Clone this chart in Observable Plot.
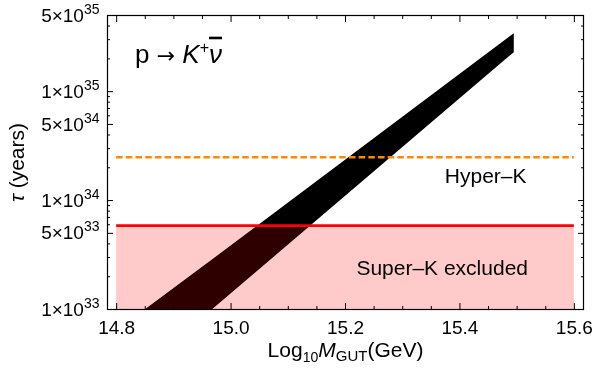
<!DOCTYPE html>
<html>
<head>
<meta charset="utf-8">
<script src="https://cdn.jsdelivr.net/npm/d3@7"></script>
<script src="https://cdn.jsdelivr.net/npm/@observablehq/plot@0.6"></script>
<style>
  html, body { margin: 0; padding: 0; background: #fff; }
  #chart { width: 592px; height: 371px; }
</style>
</head>
<body>
<div id="chart"></div>
<script>
// ---- data ----
const xTickValues = [14.8, 15.0, 15.2, 15.4, 15.6];
const xTickLabels = ["14.8", "15.0", "15.2", "15.4", "15.6"];
const yTickValues = [1e33, 5e33, 1e34, 5e34, 1e35, 5e35];
const yTickMant = ["1", "5", "1", "5", "1", "5"];
const yTickExp = ["33", "33", "34", "34", "35", "35"];
const yMinorMult = [2, 3, 4, 6, 7, 8, 9];
const yDecades = [1e33, 1e34, 1e35];

// band (predicted lifetime range) : lower / upper edges
const bandX = [14.851, 14.968, 15.495];
const bandLow = [1e33, 1e33, 2.28e35];
const bandHigh = [1e33, 2.86e33, 3.4e35];

// experimental limits
const superKLimit = 5.9e33;
const hyperKReach = 2.5e34;
const limitRange = [14.8, 15.6];
const yMin = 1e33, yMax = 5e35;

// labels
const processLabel = {x: 14.832, y: 2.2e35};
const hyperKLabel = {x: 15.445, y: 1.68e34, text: "Hyper–K"};
const superKLabel = {x: 15.369, y: 2.4e33, text: "Super–K excluded"};

// ---- derived tables ----
const band = bandX.map((x, i) => ({x, lo: bandLow[i], hi: bandHigh[i]}));
const xMinor = d3.range(0, 17).map(i => +(14.8 + i * 0.05).toFixed(2)).filter(v => !xTickValues.includes(v));
const yMinor = yDecades.flatMap(d => yMinorMult.map(m => m * d)).filter(v => v <= yMax && !yTickValues.includes(v));
const yLabels = yTickValues.map((v, i) => ({y: v, text: yTickMant[i] + "×10^" + yTickExp[i]}));
const xLabels = xTickValues.map((v, i) => ({x: v, text: xTickLabels[i]}));

const font = "Liberation Sans, Arial, Helvetica, sans-serif";
const pink = "#ffcaca";

const plot = Plot.plot({
  width: 592,
  height: 371,
  marginLeft: 107,
  marginRight: 9,
  marginTop: 15,
  marginBottom: 62,
  style: {fontFamily: font, fontSize: "19px", background: "#fff", color: "#000"},
  x: {domain: [14.784, 15.616], axis: null},
  y: {type: "log", domain: [yMin, yMax], axis: null},
  marks: [
    // Super-K excluded region
    Plot.rect([{x1: limitRange[0], x2: limitRange[1], y1: yMin, y2: superKLimit}], {x1: "x1", x2: "x2", y1: "y1", y2: "y2", fill: pink}),
    // prediction band
    Plot.areaY(band, {x: "x", y1: "lo", y2: "hi", fill: "black", curve: "linear"}),
    // tint band within excluded region
    Plot.rect([{x1: limitRange[0], x2: limitRange[1], y1: yMin, y2: superKLimit}], {x1: "x1", x2: "x2", y1: "y1", y2: "y2", fill: "#2e0000", mixBlendMode: "lighten"}),
    // limits
    Plot.ruleY([superKLimit], {x1: limitRange[0], x2: limitRange[1], stroke: "#ff0000", strokeWidth: 2.8}),
    Plot.ruleY([hyperKReach], {x1: limitRange[0], x2: limitRange[1], stroke: "#ff8a00", strokeWidth: 2.6, strokeDasharray: "6.5,3.2"}),
    // text labels
    Plot.text([hyperKLabel], {x: "x", y: "y", text: "text", fontSize: 21, fill: "black"}),
    Plot.text([superKLabel], {x: "x", y: "y", text: "text", fontSize: 21, fill: "black"}),
    Plot.text([processLabel], {x: "x", y: "y", text: () => "PROCESS", textAnchor: "start", fontSize: 26, fill: "black"}),
    // frame
    Plot.frame({stroke: "black", strokeWidth: 1.2}),
    // inward ticks: x bottom/top
    Plot.axisX({anchor: "bottom", ticks: xTickValues, tickSize: -6, fill: "none", label: null, strokeWidth: 1}),
    Plot.axisX({anchor: "top", ticks: xTickValues, tickSize: -6, fill: "none", label: null, strokeWidth: 1}),
    Plot.axisX({anchor: "bottom", ticks: xMinor, tickSize: -3, fill: "none", label: null, strokeWidth: 1}),
    Plot.axisX({anchor: "top", ticks: xMinor, tickSize: -3, fill: "none", label: null, strokeWidth: 1}),
    // inward ticks: y left/right
    Plot.axisY({anchor: "left", ticks: yTickValues, tickSize: -6, fill: "none", label: null, strokeWidth: 1}),
    Plot.axisY({anchor: "right", ticks: yTickValues, tickSize: -6, fill: "none", label: null, strokeWidth: 1}),
    Plot.axisY({anchor: "left", ticks: yMinor, tickSize: -3, fill: "none", label: null, strokeWidth: 1}),
    Plot.axisY({anchor: "right", ticks: yMinor, tickSize: -3, fill: "none", label: null, strokeWidth: 1}),
    // tick labels
    Plot.text(xLabels, {x: "x", text: "text", frameAnchor: "bottom", lineAnchor: "top", dy: 11, fontSize: 19, fill: "black"}),
    Plot.text(yLabels, {y: "y", text: "text", frameAnchor: "left", textAnchor: "end", dx: -8, fontSize: 19, fill: "black"}),
    // axis titles
    Plot.text(["XLABEL"], {frameAnchor: "bottom", textAnchor: "middle", lineAnchor: "middle", dy: 41, fontSize: 21, fill: "black"}),
    Plot.text(["YLABEL"], {frameAnchor: "left", textAnchor: "middle", lineAnchor: "middle", dx: -90, rotate: -90, fontSize: 21, fill: "black"})
  ]
});

// rich text post-processing
plot.querySelectorAll("text").forEach(t => {
  const s = t.textContent;
  if (s === "XLABEL") {
    t.innerHTML = 'Log<tspan font-size="14" dy="5">10</tspan><tspan dy="-5" font-style="italic">M</tspan><tspan font-size="15" dy="4">GUT</tspan><tspan dy="-4">(GeV)</tspan>';
  } else if (s === "YLABEL") {
    t.innerHTML = '<tspan font-style="italic">τ</tspan> (years)';
  } else if (s === "PROCESS") {
    t.innerHTML = 'p <tspan font-family="DejaVu Sans" font-size="22">→</tspan> <tspan font-style="italic">K</tspan><tspan font-size="16" dy="-10">+</tspan><tspan dy="10" font-style="italic" text-decoration="overline">ν</tspan>';
  } else if (/×10\^/.test(s)) {
    const [m, e] = s.split("^");
    t.innerHTML = m + '<tspan font-size="14" dy="-8">' + e + '</tspan>';
  }
});

document.getElementById("chart").appendChild(plot);
</script>
</body>
</html>
